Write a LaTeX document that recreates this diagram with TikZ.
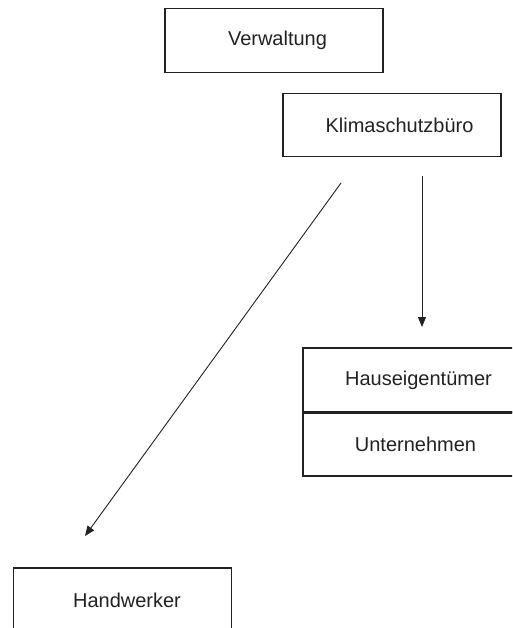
\documentclass[tikz,border=0pt]{standalone}
\usepackage{fontspec}
\setmainfont{Liberation Sans}
\usetikzlibrary{arrows.meta}
\definecolor{ink}{HTML}{222222}
\begin{document}
\begin{tikzpicture}[x=1pt,y=-1pt,
  box/.style={draw=ink, line width=1.2pt, rectangle, minimum width=218pt, minimum height=63.5pt,
    inner sep=0pt, text=ink, font=\fontsize{20}{23}\selectfont},
  conn/.style={draw=ink, line width=0.9pt, -{Triangle[length=10pt,width=8pt]}}]
\clip (0,0) rectangle (512,628);
\useasboundingbox (0,0) rectangle (512,628);
\fill[white] (0,0) rectangle (512,628);
\node[box] (verw) at (274,40.5) {\hspace*{7pt}Verwaltung};
\node[box] (klima) at (392,125) {\hspace*{15pt}Klimaschutzbüro};
\node[box, minimum height=64pt] (haus) at (412,380) {\hspace*{13pt}Hauseigentümer};
\node[box, minimum height=64pt] (unter) at (412,444) {\hspace*{7pt}Unternehmen};
\draw[ink, line width=2pt] (haus.south west) -- (haus.south east);
\node[box, minimum height=64pt] (hand) at (122.5,600) {\hspace*{9pt}Handwerker};
\coordinate (d1) at (341,183);
\coordinate (d2) at (85,536);
\coordinate (v1) at (422,176);
\coordinate (v2) at (422,327);
\draw[conn] (d1) -- (d2);
\draw[conn] (v1) -- (v2);
\end{tikzpicture}
\end{document}
